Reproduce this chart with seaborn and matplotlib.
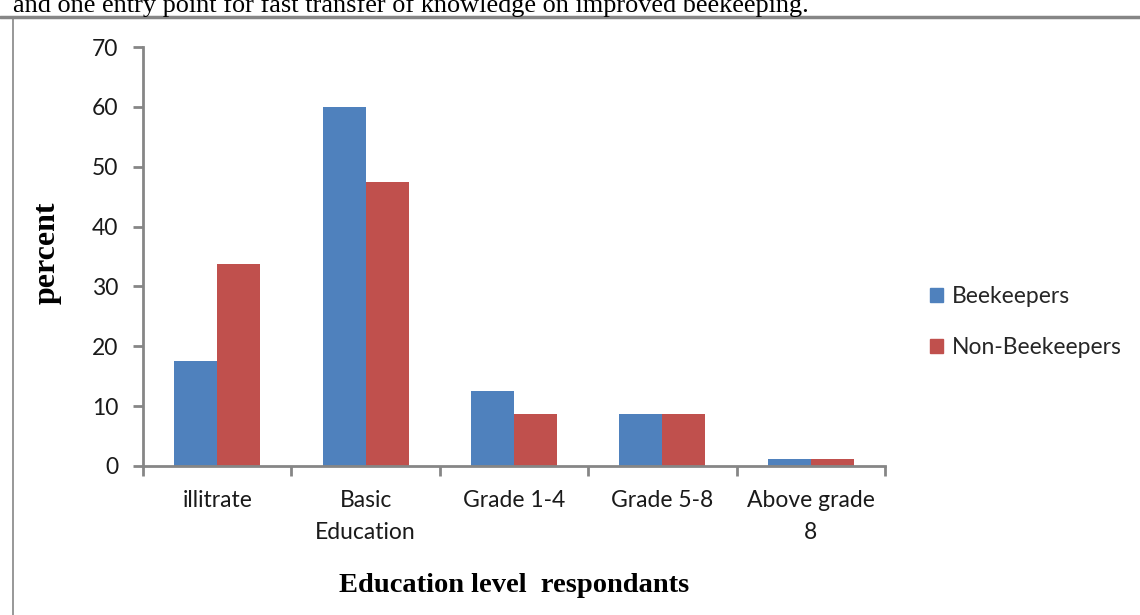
import matplotlib
matplotlib.use("Agg")
import matplotlib.pyplot as plt
import seaborn as sns
import pandas as pd
from matplotlib.lines import Line2D

categories = ["illitrate", "Basic\nEducation", "Grade 1-4", "Grade 5-8", "Above grade\n8"]
beekeepers = [17.5, 60.0, 12.5, 8.75, 1.25]
non_beekeepers = [33.75, 47.5, 8.75, 8.75, 1.25]
series = ["Beekeepers", "Non-Beekeepers"]
colors = ["#4F81BD", "#C0504D"]
yticks = [0, 10, 20, 30, 40, 50, 60, 70]

df = pd.DataFrame({
    "category": categories * 2,
    "value": beekeepers + non_beekeepers,
    "series": [series[0]] * len(categories) + [series[1]] * len(categories),
})

sns.set_theme(style="white")
plt.rcParams["font.family"] = ["Lato", "DejaVu Sans"]

W, H = 1140, 615
fig = plt.figure(figsize=(W / 100, H / 100), dpi=100)
ax = fig.add_axes([143 / W, 1 - 466 / H, (885 - 143) / W, (466 - 47) / H])

sns.barplot(data=df, x="category", y="value", hue="series", order=categories,
            hue_order=series, palette=colors, width=0.58, saturation=1,
            ax=ax, legend=False)
for p in ax.patches:
    p.set_edgecolor("none")

gray = "#868686"
fs = 16.5
ax.set_xlim(-0.5, len(categories) - 0.5)
ax.set_ylim(0, 70)
ax.set_yticks(yticks)
ax.set_yticklabels([str(t) for t in yticks], fontsize=fs, color="#1a1a1a")
ax.set_xticks(range(len(categories)))
ax.set_xticklabels(categories, fontsize=fs, color="#1a1a1a", linespacing=1.65)
ax.set_xticks([i - 0.5 for i in range(len(categories) + 1)], minor=True)
ax.tick_params(axis="x", which="major", length=0, pad=17)
ax.tick_params(axis="x", which="minor", length=7, width=2, color=gray, direction="out", bottom=True)
ax.tick_params(axis="y", length=7, width=2, color=gray, direction="out", left=True, pad=11)
for s in ["top", "right"]:
    ax.spines[s].set_visible(False)
for s in ["left", "bottom"]:
    ax.spines[s].set_color(gray)
    ax.spines[s].set_linewidth(2)

ax.set_xlabel("Education level  respondants", family="Liberation Serif", fontweight="bold",
              fontsize=20.5, color="black", labelpad=22)
ax.set_ylabel("percent", family="Liberation Serif", fontweight="bold",
              fontsize=23, color="black")
ax.yaxis.set_label_coords((62 - 143) / (885 - 143), (466 - 253) / (466 - 47))

handles = [plt.Rectangle((0, 0), 1, 1, color=c) for c in colors]
fig.legend(handles, series, loc="center left", bbox_to_anchor=(909 / W, 1 - 322 / H),
           frameon=False, fontsize=fs, handlelength=0.6, handleheight=0.6,
           handletextpad=0.35, labelspacing=1.3)

# page text and frame
fig.text(13 / W, 1 - 12 / H, "and one entry point for fast transfer of knowledge on improved beekeeping.",
         family="Liberation Serif", fontsize=18.9, va="baseline", ha="left", color="black")
fig.add_artist(Line2D([0, 1], [1 - 17 / H, 1 - 17 / H], color=gray, lw=2.5, transform=fig.transFigure))
fig.add_artist(Line2D([13 / W, 13 / W], [0, 1 - 17 / H], color=gray, lw=1.2, transform=fig.transFigure))

fig.savefig("out.png", dpi=100)
